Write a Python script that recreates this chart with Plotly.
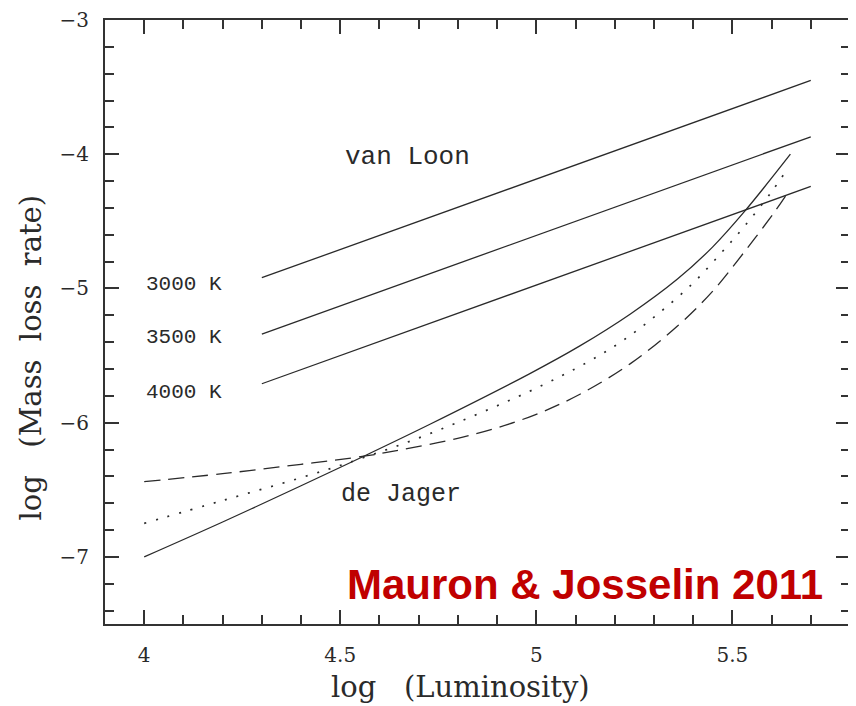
import plotly.graph_objects as go

# ---- data ----
vl_x = [4.3, 5.7]
vl_3000 = [-4.92, -3.45]
vl_3500 = [-5.34, -3.87]
vl_4000 = [-5.71, -4.24]

dj_solid_x = [4.0, 4.2, 4.4, 4.56, 4.73, 4.98, 5.11, 5.24, 5.36, 5.45, 5.53, 5.648]
dj_solid_y = [-7.0, -6.74, -6.47, -6.25, -6.01, -5.64, -5.43, -5.19, -4.93, -4.69, -4.43, -4.0]

dj_dot_x = [4.0, 4.2, 4.4, 4.56, 4.73, 4.98, 5.13, 5.22, 5.31, 5.40, 5.47, 5.53, 5.60, 5.638]
dj_dot_y = [-6.75, -6.58, -6.41, -6.26, -6.08, -5.77, -5.55, -5.39, -5.19, -4.96, -4.74, -4.54, -4.28, -4.12]

dj_dash_x = [4.0, 4.2, 4.4, 4.56, 4.64, 4.81, 4.98, 5.11, 5.24, 5.36, 5.45, 5.53, 5.61, 5.645]
dj_dash_y = [-6.44, -6.38, -6.31, -6.25, -6.21, -6.11, -5.96, -5.79, -5.56, -5.28, -5.02, -4.73, -4.42, -4.27]

x_ticks = [4, 4.5, 5, 5.5]
x_ticklabels = ["4", "4.5", "5", "5.5"]
y_ticks = [-7, -6, -5, -4, -3]
y_ticklabels = ["\u22127", "\u22126", "\u22125", "\u22124", "\u22123"]

temp_labels = ["3000 K", "3500 K", "4000 K"]
temp_label_y = [-4.968, -5.366, -5.776]

INK = "#2a2a2a"

fig = go.Figure()
for ys in (vl_3000, vl_3500, vl_4000):
    fig.add_trace(go.Scatter(x=vl_x, y=ys, mode="lines",
                             line=dict(color=INK, width=1.3), showlegend=False))

fig.add_trace(go.Scatter(x=dj_solid_x, y=dj_solid_y, mode="lines",
                         line=dict(color=INK, width=1.3, shape="spline", smoothing=1.0),
                         showlegend=False))
fig.add_trace(go.Scatter(x=dj_dot_x, y=dj_dot_y, mode="lines",
                         line=dict(color=INK, width=1.7, dash="2px,10px", shape="spline", smoothing=1.0),
                         showlegend=False))
fig.add_trace(go.Scatter(x=dj_dash_x, y=dj_dash_y, mode="lines",
                         line=dict(color=INK, width=1.3, dash="16px,8px", shape="spline", smoothing=1.0),
                         showlegend=False))

mono = "Liberation Mono, Courier New, monospace"
fig.add_annotation(x=4.671, y=-4.02, text="van Loon", showarrow=False,
                   font=dict(family=mono, size=26, color=INK))
fig.add_annotation(x=4.656, y=-6.535, text="de Jager", showarrow=False,
                   font=dict(family=mono, size=25, color=INK))
for lab, yy in zip(temp_labels, temp_label_y):
    fig.add_annotation(x=4.102, y=yy, text=lab, showarrow=False,
                       font=dict(family=mono, size=21, color=INK))

fig.add_annotation(x=5.737, y=-7.207, text="<b>Mauron & Josselin 2011</b>", showarrow=False,
                   xanchor="right", yanchor="middle",
                   font=dict(family="Liberation Sans, Arial, sans-serif", size=42, color="#C00000"))

serif = "DejaVu Serif, serif"
fig.add_annotation(xref="paper", yref="paper", x=0.477, y=-0.105, text="log   (Luminosity)",
                   showarrow=False, yanchor="middle", xanchor="center",
                   font=dict(family=serif, size=29, color=INK))
fig.add_annotation(xref="paper", x=-0.0993, y=-5.515, text="log   (Mass  loss  rate)",
                   showarrow=False, textangle=-90, xanchor="center", yanchor="middle",
                   font=dict(family=serif, size=29, color=INK))

axis_common = dict(showgrid=False, zeroline=False, showline=True, linecolor="#333",
                   linewidth=2, mirror="ticks", ticks="inside", ticklen=14, tickwidth=2,
                   tickcolor="#333", automargin=False, ticklabeloverflow="allow",
                   tickfont=dict(family=serif, size=20, color=INK))
fig.update_xaxes(range=[3.9, 5.8], tickvals=x_ticks, ticktext=x_ticklabels,
                 minor=dict(dtick=0.1, ticks="inside", ticklen=9, tickwidth=2, tickcolor="#333"),
                 ticklabelstandoff=12, **axis_common)
fig.update_yaxes(range=[-7.5, -3], tickvals=y_ticks, ticktext=y_ticklabels,
                 minor=dict(dtick=0.2, ticks="inside", ticklen=9, tickwidth=2, tickcolor="#333"),
                 ticklabelstandoff=10, **axis_common)

# page body adds an ~8px offset; size the figure so it fits the window and the frame lands as in the reference
fig.update_layout(width=848, height=698, margin=dict(l=97, r=6, t=12, b=82),
                  plot_bgcolor="white", paper_bgcolor="white")

fig.write_html("out.html")
